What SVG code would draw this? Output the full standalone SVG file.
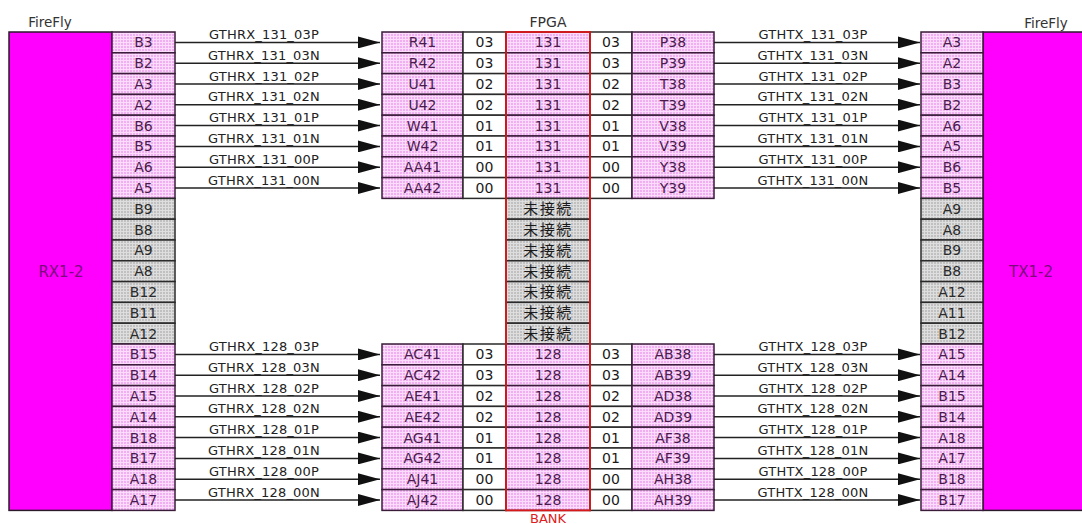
<svg xmlns="http://www.w3.org/2000/svg" width="1082" height="524" viewBox="0 0 1082 524">
<defs>
<pattern id="pk" width="3" height="3" patternUnits="userSpaceOnUse"><rect width="3" height="3" fill="#f2aef2"/><path d="M0,0.5H3M0.5,0V3" stroke="#fbdcfb" stroke-width="1"/></pattern>
<pattern id="gy" width="3" height="3" patternUnits="userSpaceOnUse"><rect width="3" height="3" fill="#c0c0c0"/><path d="M0,0.5H3M0.5,0V3" stroke="#dedede" stroke-width="1"/></pattern>
<marker id="ah" markerUnits="userSpaceOnUse" markerWidth="22" markerHeight="12" refX="22" refY="6" orient="auto"><path d="M0,0L22,6L0,12z" fill="#111"/></marker>
</defs>
<style>
.p{fill:url(#pk);stroke:#3a1c3a;stroke-width:1.5}
.g{fill:url(#gy);stroke:#2a2a2a;stroke-width:1.5}
.n{fill:#fff;stroke:#2a2a2a;stroke-width:1.5}
.mag{fill:#ff00ff;stroke:#2a1a2a;stroke-width:1.5}
text{font-family:"DejaVu Sans","Liberation Sans",sans-serif;text-anchor:middle}
.tp{font-size:14px;fill:#4a1a4d}
.tn{font-size:14px;fill:#1a1a1a}
.tg{font-size:14px;fill:#2a2a2a}
.cj{font-family:"Noto Sans CJK JP",sans-serif;font-size:15px;fill:#1a1a1a;letter-spacing:1.5px}
.ti{font-size:13.5px;fill:#333}
.sd{font-size:15px;fill:#7a0a7a}
.lb{font-size:13px;fill:#222;letter-spacing:0.2px}
.w{stroke:#222;stroke-width:1.5;fill:none;marker-end:url(#ah)}
.bk{stroke:#d81818;stroke-width:1.8;fill:none}
</style>
<rect width="1082" height="524" fill="#fff"/>

<g id="firefly-rx">
<text class="ti" x="50" y="27">FireFly</text>
<rect class="mag" x="9" y="32" width="103" height="478.4"/>
<text class="sd" x="61" y="277">RX1-2</text>
<rect class="p" x="112" y="32" width="63" height="20.8"/><text class="tp" x="143.5" y="47.4">B3</text>
<rect class="p" x="112" y="52.8" width="63" height="20.8"/><text class="tp" x="143.5" y="68.2">B2</text>
<rect class="p" x="112" y="73.6" width="63" height="20.8"/><text class="tp" x="143.5" y="89">A3</text>
<rect class="p" x="112" y="94.4" width="63" height="20.8"/><text class="tp" x="143.5" y="109.8">A2</text>
<rect class="p" x="112" y="115.2" width="63" height="20.8"/><text class="tp" x="143.5" y="130.6">B6</text>
<rect class="p" x="112" y="136" width="63" height="20.8"/><text class="tp" x="143.5" y="151.4">B5</text>
<rect class="p" x="112" y="156.8" width="63" height="20.8"/><text class="tp" x="143.5" y="172.2">A6</text>
<rect class="p" x="112" y="177.6" width="63" height="20.8"/><text class="tp" x="143.5" y="193">A5</text>
<rect class="g" x="112" y="198.4" width="63" height="20.8"/><text class="tg" x="143.5" y="213.8">B9</text>
<rect class="g" x="112" y="219.2" width="63" height="20.8"/><text class="tg" x="143.5" y="234.6">B8</text>
<rect class="g" x="112" y="240" width="63" height="20.8"/><text class="tg" x="143.5" y="255.4">A9</text>
<rect class="g" x="112" y="260.8" width="63" height="20.8"/><text class="tg" x="143.5" y="276.2">A8</text>
<rect class="g" x="112" y="281.6" width="63" height="20.8"/><text class="tg" x="143.5" y="297">B12</text>
<rect class="g" x="112" y="302.4" width="63" height="20.8"/><text class="tg" x="143.5" y="317.8">B11</text>
<rect class="g" x="112" y="323.2" width="63" height="20.8"/><text class="tg" x="143.5" y="338.6">A12</text>
<rect class="p" x="112" y="344" width="63" height="20.8"/><text class="tp" x="143.5" y="359.4">B15</text>
<rect class="p" x="112" y="364.8" width="63" height="20.8"/><text class="tp" x="143.5" y="380.2">B14</text>
<rect class="p" x="112" y="385.6" width="63" height="20.8"/><text class="tp" x="143.5" y="401">A15</text>
<rect class="p" x="112" y="406.4" width="63" height="20.8"/><text class="tp" x="143.5" y="421.8">A14</text>
<rect class="p" x="112" y="427.2" width="63" height="20.8"/><text class="tp" x="143.5" y="442.6">B18</text>
<rect class="p" x="112" y="448" width="63" height="20.8"/><text class="tp" x="143.5" y="463.4">B17</text>
<rect class="p" x="112" y="468.8" width="63" height="20.8"/><text class="tp" x="143.5" y="484.2">A18</text>
<rect class="p" x="112" y="489.6" width="63" height="20.8"/><text class="tp" x="143.5" y="505">A17</text>
</g>

<g id="fpga">
<text class="ti" x="548" y="27" style="font-size:14px">FPGA</text>
<text class="ti" x="548" y="523" style="fill:#e02020;font-size:13px">BANK</text>
<g id="fpga-131">
<rect class="p" x="382" y="32" width="81" height="20.8"/><text class="tp" x="422.5" y="47.4">R41</text><rect class="n" x="463" y="32" width="43" height="20.8"/><text class="tn" x="484.5" y="47.4">03</text><rect class="p" x="506" y="32" width="84" height="20.8"/><text class="tp" x="548" y="47.4">131</text><rect class="n" x="590" y="32" width="42" height="20.8"/><text class="tn" x="611" y="47.4">03</text><rect class="p" x="632" y="32" width="82" height="20.8"/><text class="tp" x="673" y="47.4">P38</text>
<rect class="p" x="382" y="52.8" width="81" height="20.8"/><text class="tp" x="422.5" y="68.2">R42</text><rect class="n" x="463" y="52.8" width="43" height="20.8"/><text class="tn" x="484.5" y="68.2">03</text><rect class="p" x="506" y="52.8" width="84" height="20.8"/><text class="tp" x="548" y="68.2">131</text><rect class="n" x="590" y="52.8" width="42" height="20.8"/><text class="tn" x="611" y="68.2">03</text><rect class="p" x="632" y="52.8" width="82" height="20.8"/><text class="tp" x="673" y="68.2">P39</text>
<rect class="p" x="382" y="73.6" width="81" height="20.8"/><text class="tp" x="422.5" y="89">U41</text><rect class="n" x="463" y="73.6" width="43" height="20.8"/><text class="tn" x="484.5" y="89">02</text><rect class="p" x="506" y="73.6" width="84" height="20.8"/><text class="tp" x="548" y="89">131</text><rect class="n" x="590" y="73.6" width="42" height="20.8"/><text class="tn" x="611" y="89">02</text><rect class="p" x="632" y="73.6" width="82" height="20.8"/><text class="tp" x="673" y="89">T38</text>
<rect class="p" x="382" y="94.4" width="81" height="20.8"/><text class="tp" x="422.5" y="109.8">U42</text><rect class="n" x="463" y="94.4" width="43" height="20.8"/><text class="tn" x="484.5" y="109.8">02</text><rect class="p" x="506" y="94.4" width="84" height="20.8"/><text class="tp" x="548" y="109.8">131</text><rect class="n" x="590" y="94.4" width="42" height="20.8"/><text class="tn" x="611" y="109.8">02</text><rect class="p" x="632" y="94.4" width="82" height="20.8"/><text class="tp" x="673" y="109.8">T39</text>
<rect class="p" x="382" y="115.2" width="81" height="20.8"/><text class="tp" x="422.5" y="130.6">W41</text><rect class="n" x="463" y="115.2" width="43" height="20.8"/><text class="tn" x="484.5" y="130.6">01</text><rect class="p" x="506" y="115.2" width="84" height="20.8"/><text class="tp" x="548" y="130.6">131</text><rect class="n" x="590" y="115.2" width="42" height="20.8"/><text class="tn" x="611" y="130.6">01</text><rect class="p" x="632" y="115.2" width="82" height="20.8"/><text class="tp" x="673" y="130.6">V38</text>
<rect class="p" x="382" y="136" width="81" height="20.8"/><text class="tp" x="422.5" y="151.4">W42</text><rect class="n" x="463" y="136" width="43" height="20.8"/><text class="tn" x="484.5" y="151.4">01</text><rect class="p" x="506" y="136" width="84" height="20.8"/><text class="tp" x="548" y="151.4">131</text><rect class="n" x="590" y="136" width="42" height="20.8"/><text class="tn" x="611" y="151.4">01</text><rect class="p" x="632" y="136" width="82" height="20.8"/><text class="tp" x="673" y="151.4">V39</text>
<rect class="p" x="382" y="156.8" width="81" height="20.8"/><text class="tp" x="422.5" y="172.2">AA41</text><rect class="n" x="463" y="156.8" width="43" height="20.8"/><text class="tn" x="484.5" y="172.2">00</text><rect class="p" x="506" y="156.8" width="84" height="20.8"/><text class="tp" x="548" y="172.2">131</text><rect class="n" x="590" y="156.8" width="42" height="20.8"/><text class="tn" x="611" y="172.2">00</text><rect class="p" x="632" y="156.8" width="82" height="20.8"/><text class="tp" x="673" y="172.2">Y38</text>
<rect class="p" x="382" y="177.6" width="81" height="20.8"/><text class="tp" x="422.5" y="193">AA42</text><rect class="n" x="463" y="177.6" width="43" height="20.8"/><text class="tn" x="484.5" y="193">00</text><rect class="p" x="506" y="177.6" width="84" height="20.8"/><text class="tp" x="548" y="193">131</text><rect class="n" x="590" y="177.6" width="42" height="20.8"/><text class="tn" x="611" y="193">00</text><rect class="p" x="632" y="177.6" width="82" height="20.8"/><text class="tp" x="673" y="193">Y39</text>
</g>
<g id="fpga-nc">
<rect class="g" x="506" y="198.4" width="84" height="20.8"/><text class="cj" x="548" y="214.2">未接続</text>
<rect class="g" x="506" y="219.2" width="84" height="20.8"/><text class="cj" x="548" y="235">未接続</text>
<rect class="g" x="506" y="240" width="84" height="20.8"/><text class="cj" x="548" y="255.8">未接続</text>
<rect class="g" x="506" y="260.8" width="84" height="20.8"/><text class="cj" x="548" y="276.6">未接続</text>
<rect class="g" x="506" y="281.6" width="84" height="20.8"/><text class="cj" x="548" y="297.4">未接続</text>
<rect class="g" x="506" y="302.4" width="84" height="20.8"/><text class="cj" x="548" y="318.2">未接続</text>
<rect class="g" x="506" y="323.2" width="84" height="20.8"/><text class="cj" x="548" y="339">未接続</text>
</g>
<g id="fpga-128">
<rect class="p" x="382" y="344" width="81" height="20.8"/><text class="tp" x="422.5" y="359.4">AC41</text><rect class="n" x="463" y="344" width="43" height="20.8"/><text class="tn" x="484.5" y="359.4">03</text><rect class="p" x="506" y="344" width="84" height="20.8"/><text class="tp" x="548" y="359.4">128</text><rect class="n" x="590" y="344" width="42" height="20.8"/><text class="tn" x="611" y="359.4">03</text><rect class="p" x="632" y="344" width="82" height="20.8"/><text class="tp" x="673" y="359.4">AB38</text>
<rect class="p" x="382" y="364.8" width="81" height="20.8"/><text class="tp" x="422.5" y="380.2">AC42</text><rect class="n" x="463" y="364.8" width="43" height="20.8"/><text class="tn" x="484.5" y="380.2">03</text><rect class="p" x="506" y="364.8" width="84" height="20.8"/><text class="tp" x="548" y="380.2">128</text><rect class="n" x="590" y="364.8" width="42" height="20.8"/><text class="tn" x="611" y="380.2">03</text><rect class="p" x="632" y="364.8" width="82" height="20.8"/><text class="tp" x="673" y="380.2">AB39</text>
<rect class="p" x="382" y="385.6" width="81" height="20.8"/><text class="tp" x="422.5" y="401">AE41</text><rect class="n" x="463" y="385.6" width="43" height="20.8"/><text class="tn" x="484.5" y="401">02</text><rect class="p" x="506" y="385.6" width="84" height="20.8"/><text class="tp" x="548" y="401">128</text><rect class="n" x="590" y="385.6" width="42" height="20.8"/><text class="tn" x="611" y="401">02</text><rect class="p" x="632" y="385.6" width="82" height="20.8"/><text class="tp" x="673" y="401">AD38</text>
<rect class="p" x="382" y="406.4" width="81" height="20.8"/><text class="tp" x="422.5" y="421.8">AE42</text><rect class="n" x="463" y="406.4" width="43" height="20.8"/><text class="tn" x="484.5" y="421.8">02</text><rect class="p" x="506" y="406.4" width="84" height="20.8"/><text class="tp" x="548" y="421.8">128</text><rect class="n" x="590" y="406.4" width="42" height="20.8"/><text class="tn" x="611" y="421.8">02</text><rect class="p" x="632" y="406.4" width="82" height="20.8"/><text class="tp" x="673" y="421.8">AD39</text>
<rect class="p" x="382" y="427.2" width="81" height="20.8"/><text class="tp" x="422.5" y="442.6">AG41</text><rect class="n" x="463" y="427.2" width="43" height="20.8"/><text class="tn" x="484.5" y="442.6">01</text><rect class="p" x="506" y="427.2" width="84" height="20.8"/><text class="tp" x="548" y="442.6">128</text><rect class="n" x="590" y="427.2" width="42" height="20.8"/><text class="tn" x="611" y="442.6">01</text><rect class="p" x="632" y="427.2" width="82" height="20.8"/><text class="tp" x="673" y="442.6">AF38</text>
<rect class="p" x="382" y="448" width="81" height="20.8"/><text class="tp" x="422.5" y="463.4">AG42</text><rect class="n" x="463" y="448" width="43" height="20.8"/><text class="tn" x="484.5" y="463.4">01</text><rect class="p" x="506" y="448" width="84" height="20.8"/><text class="tp" x="548" y="463.4">128</text><rect class="n" x="590" y="448" width="42" height="20.8"/><text class="tn" x="611" y="463.4">01</text><rect class="p" x="632" y="448" width="82" height="20.8"/><text class="tp" x="673" y="463.4">AF39</text>
<rect class="p" x="382" y="468.8" width="81" height="20.8"/><text class="tp" x="422.5" y="484.2">AJ41</text><rect class="n" x="463" y="468.8" width="43" height="20.8"/><text class="tn" x="484.5" y="484.2">00</text><rect class="p" x="506" y="468.8" width="84" height="20.8"/><text class="tp" x="548" y="484.2">128</text><rect class="n" x="590" y="468.8" width="42" height="20.8"/><text class="tn" x="611" y="484.2">00</text><rect class="p" x="632" y="468.8" width="82" height="20.8"/><text class="tp" x="673" y="484.2">AH38</text>
<rect class="p" x="382" y="489.6" width="81" height="20.8"/><text class="tp" x="422.5" y="505">AJ42</text><rect class="n" x="463" y="489.6" width="43" height="20.8"/><text class="tn" x="484.5" y="505">00</text><rect class="p" x="506" y="489.6" width="84" height="20.8"/><text class="tp" x="548" y="505">128</text><rect class="n" x="590" y="489.6" width="42" height="20.8"/><text class="tn" x="611" y="505">00</text><rect class="p" x="632" y="489.6" width="82" height="20.8"/><text class="tp" x="673" y="505">AH39</text>
</g>
<rect class="bk" x="506" y="32" width="84" height="478.4"/>
</g>

<g id="firefly-tx">
<text class="ti" x="1046" y="28">FireFly</text>
<rect class="mag" x="983" y="32" width="102" height="478.4"/>
<text class="sd" x="1031" y="277">TX1-2</text>
<rect class="p" x="921" y="32" width="62" height="20.8"/><text class="tp" x="952" y="47.4">A3</text>
<rect class="p" x="921" y="52.8" width="62" height="20.8"/><text class="tp" x="952" y="68.2">A2</text>
<rect class="p" x="921" y="73.6" width="62" height="20.8"/><text class="tp" x="952" y="89">B3</text>
<rect class="p" x="921" y="94.4" width="62" height="20.8"/><text class="tp" x="952" y="109.8">B2</text>
<rect class="p" x="921" y="115.2" width="62" height="20.8"/><text class="tp" x="952" y="130.6">A6</text>
<rect class="p" x="921" y="136" width="62" height="20.8"/><text class="tp" x="952" y="151.4">A5</text>
<rect class="p" x="921" y="156.8" width="62" height="20.8"/><text class="tp" x="952" y="172.2">B6</text>
<rect class="p" x="921" y="177.6" width="62" height="20.8"/><text class="tp" x="952" y="193">B5</text>
<rect class="g" x="921" y="198.4" width="62" height="20.8"/><text class="tg" x="952" y="213.8">A9</text>
<rect class="g" x="921" y="219.2" width="62" height="20.8"/><text class="tg" x="952" y="234.6">A8</text>
<rect class="g" x="921" y="240" width="62" height="20.8"/><text class="tg" x="952" y="255.4">B9</text>
<rect class="g" x="921" y="260.8" width="62" height="20.8"/><text class="tg" x="952" y="276.2">B8</text>
<rect class="g" x="921" y="281.6" width="62" height="20.8"/><text class="tg" x="952" y="297">A12</text>
<rect class="g" x="921" y="302.4" width="62" height="20.8"/><text class="tg" x="952" y="317.8">A11</text>
<rect class="g" x="921" y="323.2" width="62" height="20.8"/><text class="tg" x="952" y="338.6">B12</text>
<rect class="p" x="921" y="344" width="62" height="20.8"/><text class="tp" x="952" y="359.4">A15</text>
<rect class="p" x="921" y="364.8" width="62" height="20.8"/><text class="tp" x="952" y="380.2">A14</text>
<rect class="p" x="921" y="385.6" width="62" height="20.8"/><text class="tp" x="952" y="401">B15</text>
<rect class="p" x="921" y="406.4" width="62" height="20.8"/><text class="tp" x="952" y="421.8">B14</text>
<rect class="p" x="921" y="427.2" width="62" height="20.8"/><text class="tp" x="952" y="442.6">A18</text>
<rect class="p" x="921" y="448" width="62" height="20.8"/><text class="tp" x="952" y="463.4">A17</text>
<rect class="p" x="921" y="468.8" width="62" height="20.8"/><text class="tp" x="952" y="484.2">B18</text>
<rect class="p" x="921" y="489.6" width="62" height="20.8"/><text class="tp" x="952" y="505">B17</text>
</g>

<g id="connectors">
<path class="w" d="M175,42.4H380"/><text class="lb" x="264" y="39">GTHRX_131_03P</text>
<path class="w" d="M175,63.2H380"/><text class="lb" x="264" y="59.8">GTHRX_131_03N</text>
<path class="w" d="M175,84H380"/><text class="lb" x="264" y="80.6">GTHRX_131_02P</text>
<path class="w" d="M175,104.8H380"/><text class="lb" x="264" y="101.4">GTHRX_131_02N</text>
<path class="w" d="M175,125.6H380"/><text class="lb" x="264" y="122.2">GTHRX_131_01P</text>
<path class="w" d="M175,146.4H380"/><text class="lb" x="264" y="143">GTHRX_131_01N</text>
<path class="w" d="M175,167.2H380"/><text class="lb" x="264" y="163.8">GTHRX_131_00P</text>
<path class="w" d="M175,188H380"/><text class="lb" x="264" y="184.6">GTHRX_131_00N</text>
<path class="w" d="M175,354.4H380"/><text class="lb" x="264" y="351">GTHRX_128_03P</text>
<path class="w" d="M175,375.2H380"/><text class="lb" x="264" y="371.8">GTHRX_128_03N</text>
<path class="w" d="M175,396H380"/><text class="lb" x="264" y="392.6">GTHRX_128_02P</text>
<path class="w" d="M175,416.8H380"/><text class="lb" x="264" y="413.4">GTHRX_128_02N</text>
<path class="w" d="M175,437.6H380"/><text class="lb" x="264" y="434.2">GTHRX_128_01P</text>
<path class="w" d="M175,458.4H380"/><text class="lb" x="264" y="455">GTHRX_128_01N</text>
<path class="w" d="M175,479.2H380"/><text class="lb" x="264" y="475.8">GTHRX_128_00P</text>
<path class="w" d="M175,500H380"/><text class="lb" x="264" y="496.6">GTHRX_128_00N</text>
<path class="w" d="M714,42.4H920"/><text class="lb" x="813" y="39">GTHTX_131_03P</text>
<path class="w" d="M714,63.2H920"/><text class="lb" x="813" y="59.8">GTHTX_131_03N</text>
<path class="w" d="M714,84H920"/><text class="lb" x="813" y="80.6">GTHTX_131_02P</text>
<path class="w" d="M714,104.8H920"/><text class="lb" x="813" y="101.4">GTHTX_131_02N</text>
<path class="w" d="M714,125.6H920"/><text class="lb" x="813" y="122.2">GTHTX_131_01P</text>
<path class="w" d="M714,146.4H920"/><text class="lb" x="813" y="143">GTHTX_131_01N</text>
<path class="w" d="M714,167.2H920"/><text class="lb" x="813" y="163.8">GTHTX_131_00P</text>
<path class="w" d="M714,188H920"/><text class="lb" x="813" y="184.6">GTHTX_131_00N</text>
<path class="w" d="M714,354.4H920"/><text class="lb" x="813" y="351">GTHTX_128_03P</text>
<path class="w" d="M714,375.2H920"/><text class="lb" x="813" y="371.8">GTHTX_128_03N</text>
<path class="w" d="M714,396H920"/><text class="lb" x="813" y="392.6">GTHTX_128_02P</text>
<path class="w" d="M714,416.8H920"/><text class="lb" x="813" y="413.4">GTHTX_128_02N</text>
<path class="w" d="M714,437.6H920"/><text class="lb" x="813" y="434.2">GTHTX_128_01P</text>
<path class="w" d="M714,458.4H920"/><text class="lb" x="813" y="455">GTHTX_128_01N</text>
<path class="w" d="M714,479.2H920"/><text class="lb" x="813" y="475.8">GTHTX_128_00P</text>
<path class="w" d="M714,500H920"/><text class="lb" x="813" y="496.6">GTHTX_128_00N</text>
</g>
</svg>
